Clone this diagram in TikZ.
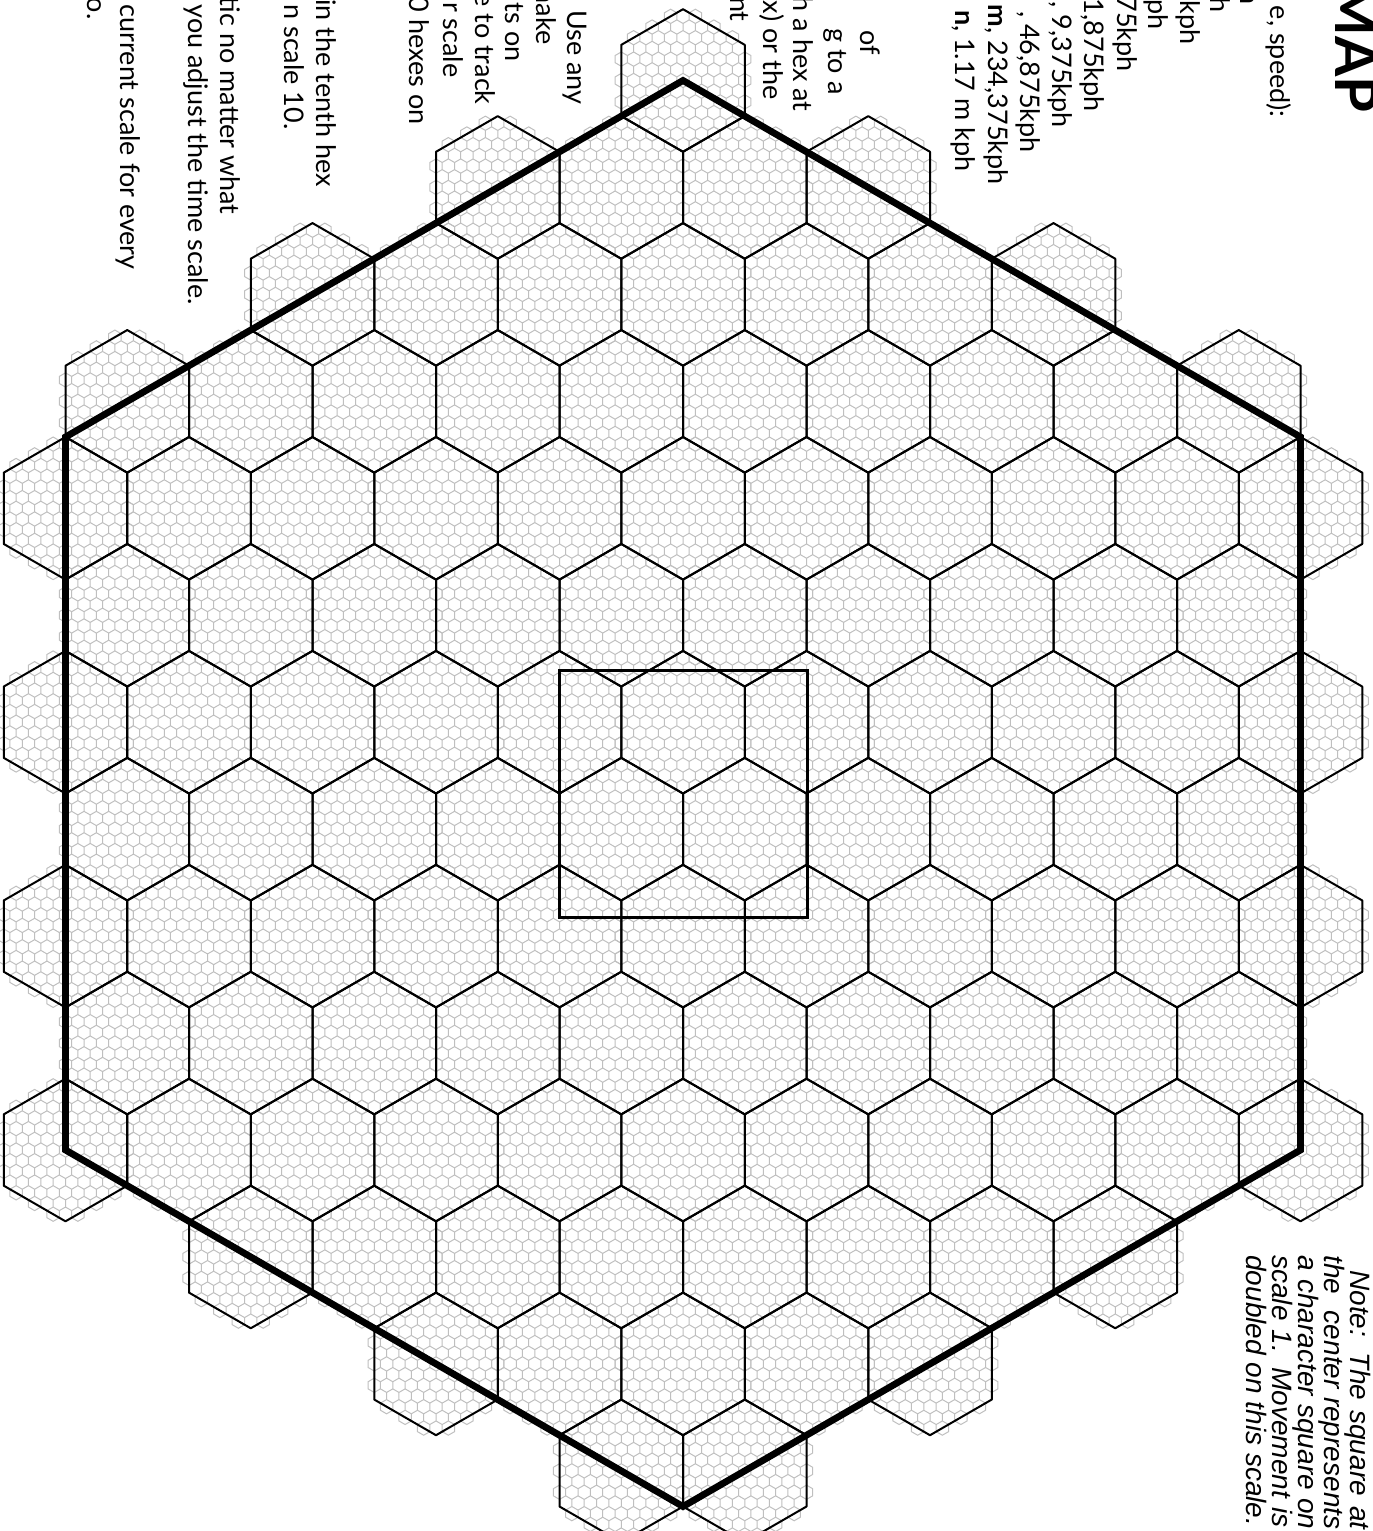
\documentclass[tikz,border=0pt]{standalone}
\usepackage{fontspec}
\setmainfont{Lato}
\newfontfamily\notefont{Liberation Sans}
\usetikzlibrary{positioning}

% small hex cell (pt): side 3.5651, half width 3.0875, row step 5.3477
\newdimen\bigx
\newdimen\bigy
\newdimen\shx
\newdimen\shy
\newcount\hexdist
\newcommand\smallhex[2]{%
  \shx=\dimexpr\bigx+3.0875pt*#1\relax
  \shy=\dimexpr\bigy+5.3477pt*#2\relax
  \pgfpathmoveto{\pgfqpoint{\shx}{\dimexpr\shy+3.5651pt}}%
  \pgfpathlineto{\pgfqpoint{\dimexpr\shx+3.0875pt}{\dimexpr\shy+1.7825pt}}%
  \pgfpathlineto{\pgfqpoint{\dimexpr\shx+3.0875pt}{\dimexpr\shy-1.7825pt}}%
  \pgfpathlineto{\pgfqpoint{\shx}{\dimexpr\shy-3.5651pt}}%
  \pgfpathlineto{\pgfqpoint{\dimexpr\shx-3.0875pt}{\dimexpr\shy-1.7825pt}}%
  \pgfpathlineto{\pgfqpoint{\dimexpr\shx-3.0875pt}{\dimexpr\shy+1.7825pt}}%
  \pgfpathclose}

\tikzset{
  smallgrid/.style={color=black!25, line width=0.5pt},
  bighex/.style={draw=black, line width=1pt, line join=round},
  outline/.style={draw=black, line width=3.4pt, line join=miter},
  centresq/.style={draw=black, line width=1.5pt},
  maptext/.style={rotate=-90, anchor=base east, inner sep=0pt, font=\fontsize{13.5}{16}\selectfont},
  titletext/.style={rotate=-90, anchor=base east, inner sep=0pt, font=\bfseries\fontsize{29}{32}\selectfont},
  notetext/.style={rotate=-90, anchor=base west, inner sep=0pt, font=\notefont\itshape\fontsize{14}{16}\selectfont},
}

\begin{document}
\begin{tikzpicture}[x=0.5pt, y=-0.5pt]
\useasboundingbox (0,0) rectangle (1372,1531);
\clip (0,0) rectangle (1372,1531);

% the 109 small cells of one big hex
\gdef\smallset{}
\foreach \b in {-6,...,6}{
  \foreach \u in {-10,...,10}{
    \ifodd\numexpr\u+\b\relax\else
      \hexdist=\numexpr3*\b\relax
      \ifnum\hexdist<0 \hexdist=-\hexdist\fi
      \advance\hexdist by \ifnum\u<0 -\fi\u\relax
      \ifnum\hexdist>20 \else
        \xdef\smallset{\unexpanded\expandafter{\smallset}\noexpand\smallhex{\u}{\b}}
      \fi
    \fi
  }
}

% small grid
\begin{scope}[smallgrid]
\foreach \j in {-7,...,6}{
  \foreach \U in {-10,...,10}{
    \ifodd\numexpr\U+\j\relax\else
      \hexdist=\numexpr2+3*\j\relax
      \ifnum\hexdist<0 \hexdist=-\hexdist\fi
      \advance\hexdist by \ifnum\U<0 -\fi\U\relax
      \ifnum\hexdist>20 \else
        \bigx=\dimexpr341.5pt+30.875pt*\U\relax
        \bigy=\dimexpr-361.1pt+53.475pt*\j\relax
        \smallset
        \pgfusepath{stroke}
      \fi
    \fi
  }
}
\end{scope}

% big hexes
\foreach \j in {-7,...,6}{
  \foreach \U in {-10,...,10}{
    \ifodd\numexpr\U+\j\relax\else
      \hexdist=\numexpr2+3*\j\relax
      \ifnum\hexdist<0 \hexdist=-\hexdist\fi
      \advance\hexdist by \ifnum\U<0 -\fi\U\relax
      \ifnum\hexdist>20 \else
        \coordinate (hc) at ({683+61.75*\U},{722.2-106.95*\j});
        \draw[bighex] (hc) +(90:71.3) -- +(30:71.3) -- +(-30:71.3) -- +(-90:71.3)
          -- +(-150:71.3) -- +(150:71.3) -- cycle;
      \fi
    \fi
  }
}

% map border and centre square
\coordinate (mapcentre) at (683,793.5);
\draw[outline] (mapcentre) +(90:713) -- +(30:713) -- +(-30:713) -- +(-90:713)
  -- +(-150:713) -- +(150:713) -- cycle;
\draw[centresq] (559,670) rectangle (807,917);

% text, upper right
\node[titletext] (title) at (1335,113) {MAP};
\node[maptext] (r1) at (1270,118) {e, speed):};
\node[maptext] (r2) at (1240,5) {n};
\node[maptext] (r3) at (1210,13) {h};
\node[maptext] (r4) at (1180,45) {kph};
\node[maptext] (r5) at (1148,30) {ph};
\node[maptext] (r6) at (1117,72) {75kph};
\node[maptext] (r7) at (1084,112) {1,875kph};
\node[maptext] (r8) at (1052,128) {, 9,375kph};
\node[maptext] (r9) at (1020,153) {, 46,875kph};
\node[maptext] (r10) at (988,185) {\textbf{m}, 234,375kph};
\node[maptext] (r11) at (955,172) {\textbf{n}, 1.17 m kph};

\node[maptext] (p1) at (860,55) {of};
\node[maptext] (p2) at (828,95) {g to a};
\node[maptext] (p3) at (793,112) {h a hex at};
\node[maptext] (p4) at (763,100) {x) or the};
\node[maptext] (p5) at (730,22) {nt};

% text, upper left
\node[maptext] (q1) at (567,105) {Use any};
\node[maptext] (q2) at (536,45) {nake};
\node[maptext] (q3) at (505,62) {ts on};
\node[maptext] (q4) at (475,105) {e to track};
\node[maptext] (q5) at (443,78) {r scale};
\node[maptext] (q6) at (409,125) {0 hexes on};

\node[maptext] (s1) at (316,187) {in the tenth hex};
\node[maptext] (s2) at (284,130) {n scale 10.};

\node[maptext] (t1) at (220,215) {tic no matter what};
\node[maptext] (t2) at (188,305) {s you adjust the time scale.};

\node[maptext] (u1) at (120,270) {e current scale for every};
\node[maptext] (u2) at (87,20) {o.};

% note, lower right
\node[notetext] (n1) at (1350,1270) {\makebox[129.5pt][s]{Note: The square at}};
\node[notetext] (n2) at (1324,1255) {\makebox[137pt][s]{the \ center represents}};
\node[notetext] (n3) at (1298,1255) {\makebox[137pt][s]{a character square on}};
\node[notetext] (n4) at (1272,1255) {\makebox[136pt][s]{scale 1. Movement is}};
\node[notetext] (n5) at (1246,1255) {doubled on this scale.};
\end{tikzpicture}
\end{document}
